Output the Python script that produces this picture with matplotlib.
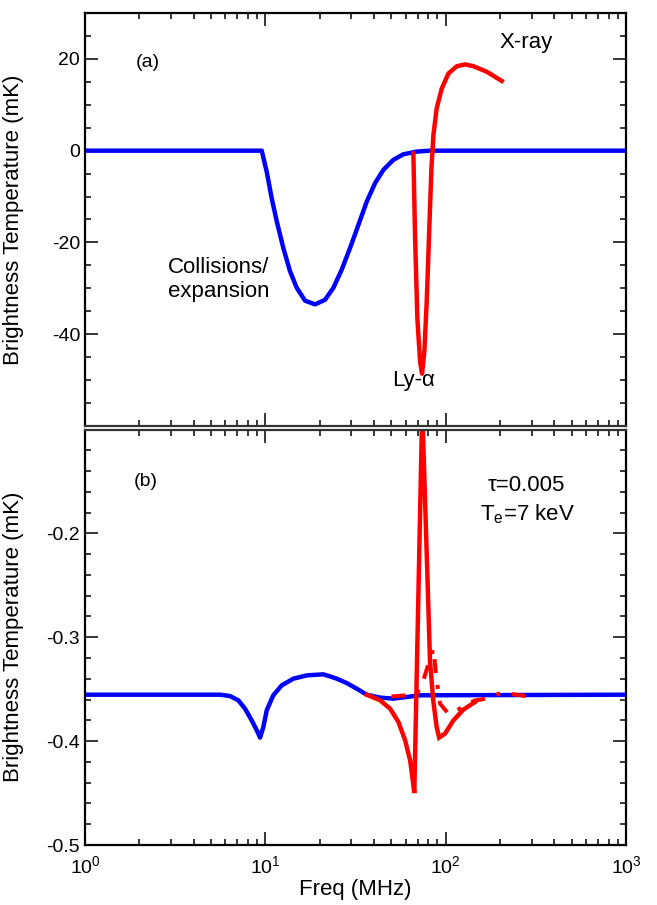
import matplotlib
matplotlib.use("Agg")
import matplotlib.pyplot as plt
from matplotlib.ticker import MultipleLocator, LogLocator, NullFormatter, FixedLocator

plt.rcParams['font.family'] = ['Liberation Sans', 'DejaVu Sans']
plt.rcParams['mathtext.fontset'] = 'custom'
plt.rcParams['mathtext.rm'] = 'Liberation Sans'
plt.rcParams['mathtext.it'] = 'Liberation Sans:italic'
plt.rcParams['axes.unicode_minus'] = False

# ---- panel (a) data ----
freq_a_coll = [1, 9.55, 10.18, 10.85, 11.57, 12.58, 13.71, 14.94, 16.61, 18.87, 21.43,
               23.84, 26.54, 29.51, 32.8, 36.51, 40.57, 45.11, 51.26, 58.2, 69.15, 81.9, 1000]
tb_a_coll = [0, 0, -4.6, -10.4, -15.4, -21.2, -26.3, -29.9, -32.7, -33.5, -32.5,
             -29.9, -25.9, -21.2, -16.2, -11.1, -7.1, -4.2, -2.0, -0.8, -0.2, 0, 0]

freq_a_xray = [66.22, 67.61, 69.66, 72.11, 73.96, 76.21, 78.52, 80.91, 83.37, 85.51,
               89.13, 95.06, 103.5, 115.3, 128.2, 142.6, 169.0, 204.6]
tb_a_xray = [-0.6, -18.3, -36.5, -45.9, -48.6, -43.7, -32.8, -18.3, -3.8, 3.4,
             9.2, 13.5, 16.8, 18.4, 18.8, 18.4, 17.2, 15.2]

# ---- panel (b) data ----
freq_b_coll = [1, 5.61, 6.37, 7.08, 7.71, 8.4, 8.96, 9.35, 9.75, 10.18, 11.07, 12.33,
               14.29, 16.98, 20.98, 22.84, 24.89, 28.27, 32.13, 36.51, 43.25, 51.26,
               60.84, 72.1, 1000]
tb_b_coll = [-0.3553, -0.3553, -0.3566, -0.3607, -0.3687, -0.380, -0.3895, -0.3966,
             -0.3864, -0.3703, -0.3559, -0.3463, -0.3399, -0.3367, -0.3357, -0.3377,
             -0.3399, -0.3441, -0.3495, -0.3553, -0.3581, -0.3591, -0.3575, -0.3559, -0.3553]

freq_b_solid = [36.5, 43.25, 49.17, 54.67, 59.54, 63.5, 65.7, 67.0, 74.13, 78.52,
                81.85, 85.31, 89.13, 92.04, 99.3, 110.4, 125.3, 145.5]
tb_b_solid = [-0.3553, -0.3607, -0.3687, -0.3815, -0.399, -0.4184, -0.4376, -0.450,
              -0.08, -0.22, -0.3223, -0.3607, -0.3864, -0.3966, -0.3927, -0.380,
              -0.3697, -0.3623]

freq_b_dash = [50.1, 59.5, 69.2, 75.2, 80.2, 85.5, 88.5, 93.1, 103.5, 112.2, 125.9,
               144.5, 169.0, 204.6, 239.9, 287.7]
tb_b_dash = [-0.357, -0.356, -0.3543, -0.3415, -0.326, -0.311, -0.3367, -0.364,
             -0.3735, -0.372, -0.366, -0.361, -0.359, -0.3533, -0.355, -0.357]

yticks_a = [-40, -20, 0, 20]
yticks_b = [-0.5, -0.4, -0.3, -0.2]
ylabels_b = ['-0.5', '-0.4', '-0.3', '-0.2']

W, H = 657, 905
fig = plt.figure(figsize=(W / 100, H / 100), dpi=100)

def px_axes(x0, y0, x1, y1):
    return fig.add_axes([x0 / W, 1 - y1 / H, (x1 - x0) / W, (y1 - y0) / H])

ax1 = px_axes(85, 13, 626, 426)
ax2 = px_axes(85, 429.5, 626, 845)

BLUE = '#0000ff'
RED = '#ff0000'
LW = 3.2

ax1.plot(freq_a_coll, tb_a_coll, color=BLUE, lw=LW, solid_joinstyle='round')
ax1.plot(freq_a_xray, tb_a_xray, color=RED, lw=LW, solid_joinstyle='round')

ax2.plot(freq_b_coll, tb_b_coll, color=BLUE, lw=LW, solid_joinstyle='round')
ax2.plot(freq_b_dash, tb_b_dash, color=RED, lw=LW * 0.9, linestyle=(0, (3.5, 3.0, 1.0, 3.0)))
ax2.plot(freq_b_solid, tb_b_solid, color=RED, lw=LW, solid_joinstyle='miter')

for ax in (ax1, ax2):
    ax.set_xscale('log')
    ax.set_xlim(1, 1000)
    ax.xaxis.set_major_locator(LogLocator(base=10, numticks=10))
    ax.xaxis.set_minor_locator(LogLocator(base=10, subs=range(2, 10), numticks=20))
    ax.xaxis.set_minor_formatter(NullFormatter())
    ax.tick_params(which='both', direction='in', top=True, right=True, width=1.1,
                   labelsize=14, color='black')
    ax.tick_params(which='major', length=9.5)
    ax.tick_params(which='minor', length=4.5)
    for s in ax.spines.values():
        s.set_linewidth(1.6)
    ax.set_ylabel('Brightness Temperature (mK)', fontsize=16, labelpad=6)

ax1.spines['bottom'].set_color('#333333')
ax2.spines['top'].set_color('#333333')

ax1.set_ylim(-60, 30)
ax1.yaxis.set_major_locator(FixedLocator(yticks_a))
ax1.yaxis.set_minor_locator(MultipleLocator(5))
ax1.tick_params(axis='x', labelbottom=False)

ax2.set_ylim(-0.5, -0.1)
ax2.yaxis.set_major_locator(FixedLocator(yticks_b))
ax2.yaxis.set_minor_locator(MultipleLocator(0.02))
ax2.set_yticklabels(ylabels_b)
ax2.set_xlabel('Freq (MHz)', fontsize=16, labelpad=2)
ax2.tick_params(axis='x', pad=7)

ax1.yaxis.set_label_coords(-0.112, 0.5)
ax2.yaxis.set_label_coords(-0.112, 0.5)

# annotations
ax1.text(0.116, 0.879, '(a)', transform=ax1.transAxes, fontsize=14, ha='center', va='center')
ax1.text(0.815, 0.928, 'X-ray', transform=ax1.transAxes, fontsize=16, ha='center', va='center')
ax1.text(0.153, 0.355, 'Collisions/\nexpansion', transform=ax1.transAxes, fontsize=16,
         ha='left', va='center', linespacing=1.15)
ax1.text(0.608, 0.111, 'Ly-α', transform=ax1.transAxes, fontsize=16, ha='center', va='center')

ax2.text(0.113, 0.875, '(b)', transform=ax2.transAxes, fontsize=14, ha='center', va='center')
ax2.text(0.815, 0.865, 'τ=0.005', transform=ax2.transAxes, fontsize=16, ha='center', va='center')
ax2.text(0.817, 0.796, r'T$_\mathrm{e}$=7 keV', transform=ax2.transAxes, fontsize=16, ha='center', va='center')

fig.savefig('out.png', dpi=100)
